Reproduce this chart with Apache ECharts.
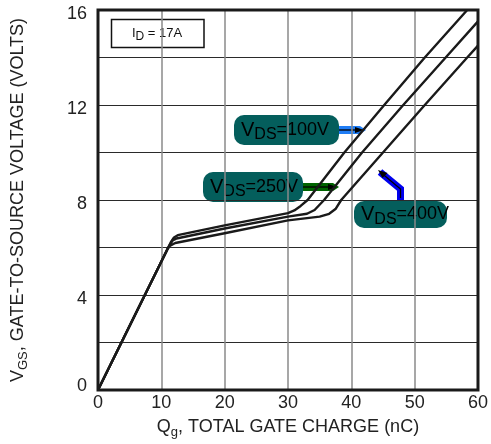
<!DOCTYPE html>
<html><head><meta charset="utf-8">
<script src="https://cdn.jsdelivr.net/npm/echarts@6/dist/echarts.min.js"></script>
<style>html,body{margin:0;padding:0;background:#fff}#c{width:491px;height:444px}</style>
</head><body><div id="c"></div>
<script>
var xTicks = [0, 10, 20, 30, 40, 50, 60];
var yTickLabels = [0, 4, 8, 12, 16];
var vds100 = [[0,0],[11,5.95],[11.5,6.22],[12,6.42],[12.6,6.52],[20,6.93],[30,7.45],[31,7.56],[32,7.75],[33.1,8],[38.9,10],[45.2,12],[51.6,14],[58.3,16]];
var vds250 = [[0,0],[11,5.95],[11.4,6.14],[11.8,6.3],[12.4,6.38],[20,6.8],[30,7.3],[33,7.42],[34.2,7.58],[35.7,8],[41.7,10],[48.2,12],[54.9,14],[60,15.52]];
var vds400 = [[0,0],[11,5.95],[11.4,6.08],[12.2,6.19],[20,6.6],[30,7.14],[35,7.3],[36.5,7.42],[37.5,7.62],[38.4,8],[45,10],[51.6,12],[58.3,14],[60,14.5]];

var font = '"Liberation Sans", Arial, sans-serif';
var chart = echarts.init(document.getElementById('c'));
function ser(name, d) {
  return {name: name, type: 'line', data: d, showSymbol: false, smooth: false,
    lineStyle: {color: '#1a1a1a', width: 2.4, join: 'round'}, silent: true};
}
function labelBox(x, y, w, h, val) {
  return {type: 'group', children: [
    {type: 'rect', shape: {x: x, y: y, width: w, height: h, r: 10}, style: {fill: '#045e5c'}},
    {type: 'text', x: x + 7, y: y + h / 2, style: {
      text: '{v|V}{s|DS}{n|' + val + '}', textVerticalAlign: 'middle', textAlign: 'left',
      rich: {
        v: {fontSize: 20, fontFamily: font, fill: '#000'},
        s: {fontSize: 16, fontFamily: font, fill: '#000', padding: [10, 0, 0, 0]},
        n: {fontSize: 18, fontFamily: font, fill: '#000'}
      }}}
  ]};
}
var graphics = [
  {type: 'rect', shape: {x: 111.5, y: 19.5, width: 92.5, height: 28}, style: {fill: '#fff', stroke: '#111', lineWidth: 1.5}},
  {type: 'text', x: 157, y: 33, style: {text: '{a|I}{b|D}{a| = 17A}', textAlign: 'center', textVerticalAlign: 'middle',
    rich: {a: {fontSize: 13, fontFamily: font, fill: '#111'}, b: {fontSize: 12, fontFamily: font, fill: '#111', padding: [8, 0, 0, 0]}}}},
  labelBox(234, 115, 105, 30, '=100V'),
  labelBox(203, 172, 100, 30, '=250V'),
  labelBox(354, 201, 93, 27, '=400V'),
  {type: 'polygon', shape: {points: [[339,126],[360,126],[366,130],[360,134],[339,134]]}, style: {fill: '#1f7df5'}},
  {type: 'line', shape: {x1: 339, y1: 130, x2: 360, y2: 130}, style: {stroke: '#000', lineWidth: 1.3}},
  {type: 'polygon', shape: {points: [[355,127],[364,130],[355,133]]}, style: {fill: '#000'}},
  {type: 'polygon', shape: {points: [[303,183],[333,183],[339,187],[333,191],[303,191]]}, style: {fill: '#006400'}},
  {type: 'line', shape: {x1: 303, y1: 187, x2: 333, y2: 187}, style: {stroke: '#000', lineWidth: 1.3}},
  {type: 'polygon', shape: {points: [[328,184],[337,187],[328,190]]}, style: {fill: '#000'}},
  {type: 'polyline', shape: {points: [[400.5,200],[400.5,189],[380,172]]}, style: {stroke: '#0000ee', lineWidth: 7, lineJoin: 'miter', fill: null}},
  {type: 'polyline', shape: {points: [[400.5,198],[400.5,189],[382,173.5]]}, style: {stroke: '#000', lineWidth: 1.3, fill: null}},
  {type: 'polygon', shape: {points: [[378,170],[387.5,173],[382.5,178]]}, style: {fill: '#000'}}
];

chart.setOption({
  animation: false,
  backgroundColor: '#fff',
  grid: {left: 98, right: 9.5, top: 10, bottom: 51, show: true, borderColor: '#1a1a1a', borderWidth: 3, backgroundColor: 'transparent', z: 5},
  xAxis: {type: 'value', min: xTicks[0], max: xTicks[xTicks.length - 1], interval: 10,
    axisLine: {show: false}, axisTick: {show: false},
    axisLabel: {fontSize: 18, color: '#222', fontFamily: font, margin: 4},
    splitLine: {show: true, lineStyle: {color: '#8a8a8a', width: 1.5}},
    name: '{a|Q}{b|g}{a|, TOTAL GATE CHARGE (nC)}', nameLocation: 'middle', nameGap: 26,
    nameTextStyle: {rich: {a: {fontSize: 18, color: '#222', fontFamily: font}, b: {fontSize: 13, color: '#222', fontFamily: font, padding: [10, 0, 0, 0]}}}
  },
  yAxis: {type: 'value', min: 0, max: 16, interval: 2,
    axisLine: {show: false}, axisTick: {show: false},
    axisLabel: {color: '#222', fontFamily: font, margin: 11,
      formatter: function (v) {
        if (yTickLabels.indexOf(v) < 0) return '';
        return v === 0 ? '{z|' + v + '}' : '{d|' + v + '}';
      },
      rich: {
        d: {fontSize: 18, color: '#222', fontFamily: font, padding: [8, 0, 0, 0]},
        z: {fontSize: 18, color: '#222', fontFamily: font, padding: [0, 0, 8, 0]}
      }},
    splitLine: {show: true, lineStyle: {color: '#2a2a2a', width: 1}},
    name: '{a|V}{b|GS}{a|, GATE-TO-SOURCE VOLTAGE (VOLTS)}', nameLocation: 'middle', nameGap: 68, nameRotate: 90,
    nameTextStyle: {rich: {a: {fontSize: 18, color: '#222', fontFamily: font}, b: {fontSize: 13, color: '#222', fontFamily: font, padding: [10, 0, 0, 0]}}}
  },
  series: [ser('VDS=100V', vds100), ser('VDS=250V', vds250), ser('VDS=400V', vds400)],
  graphic: graphics
});
</script></body></html>
